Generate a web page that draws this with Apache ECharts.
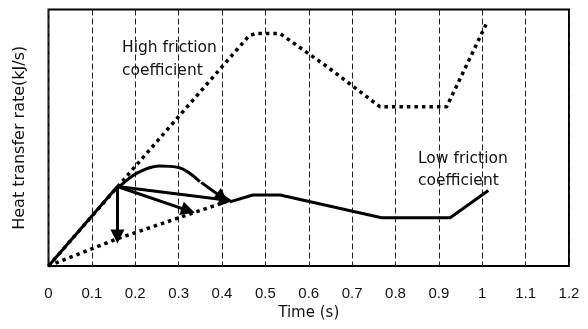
<!DOCTYPE html>
<html>
<head>
<meta charset="utf-8">
<script src="https://cdn.jsdelivr.net/npm/echarts@6/dist/echarts.min.js"></script>
<style>
html,body{margin:0;padding:0;background:#fff;}
#chart{width:588px;height:329px;}
</style>
</head>
<body>
<div id="chart"></div>
<script>
// ---- data (x: time in s, y: relative heat transfer rate, arbitrary units 0-100) ----
var xTickMin = 0, xTickMax = 1.2, xTickStep = 0.1;
var lowFrictionRise = [[0, 0], [0.159, 31.0]];
var lowFriction = [[0.418, 25.0], [0.471, 27.7], [0.534, 27.7], [0.768, 18.8], [0.926, 18.8], [1.014, 29.4]];
var highFriction = [[0, 0], [0.462, 89.7], [0.476, 90.6], [0.534, 90.6], [0.644, 77.5], [0.764, 62.1], [0.918, 62.1], [1.010, 94.6]];
var lowDotted = [[0, 0], [0.16, 10.7], [0.41, 25.1]];
var curvedPath = [[0.161, 30.6], [0.205, 36.3], [0.255, 39.0], [0.300, 38.4], [0.349, 32.9]];
var arrowSegments = [
  [[0.159, 31.0], [0.159, 11.5]],
  [[0.159, 31.0], [0.322, 21.6]],
  [[0.159, 31.0], [0.409, 25.7]],
  [[0.352, 32.6], [0.401, 26.6]]
];
var yAxisTitle = 'Heat transfer rate(kJ/s)';
var xAxisTitle = 'Time (s)';
var highLabel = ['High friction', 'coefficient'];
var lowLabel = ['Low friction', 'coefficient'];

var chart = echarts.init(document.getElementById('chart'), null, {renderer: 'canvas'});
var FONT = 'DejaVu Sans';
var solid = {color: '#000', width: 3};
var dotted = {color: '#000', width: 3.5, type: [3.5, 4], cap: 'butt'};

chart.setOption({
  animation: false,
  backgroundColor: '#fff',
  grid: {left: 48.5, right: 19, top: 9.5, bottom: 63, show: true, borderColor: '#000', borderWidth: 2},
  xAxis: {
    type: 'value', min: xTickMin, max: xTickMax, interval: xTickStep,
    name: xAxisTitle, nameLocation: 'middle', nameGap: 39,
    nameTextStyle: {fontFamily: FONT, fontSize: 15, color: '#111'},
    axisLine: {show: false}, axisTick: {show: false},
    axisLabel: {margin: 20, fontFamily: 'Liberation Sans', fontSize: 15, color: '#111',
      formatter: function (v) { return String(Math.round(v * 10) / 10); }},
    splitLine: {show: true, lineStyle: {color: '#222', width: 1, type: [6, 3]}}
  },
  yAxis: {
    type: 'value', min: 0, max: 100,
    name: yAxisTitle, nameLocation: 'middle', nameGap: 21, nameRotate: 90,
    nameTextStyle: {fontFamily: FONT, fontSize: 16, color: '#111'},
    axisLine: {show: false}, axisTick: {show: false}, axisLabel: {show: false},
    splitLine: {show: false}
  },
  series: [
    {type: 'line', data: highFriction, showSymbol: false, lineStyle: dotted, z: 3},
    {type: 'line', data: lowDotted, showSymbol: false, lineStyle: dotted, z: 3},
    {type: 'line', data: lowFrictionRise, showSymbol: false, lineStyle: solid, z: 4},
    {type: 'line', data: lowFriction, showSymbol: false, lineStyle: solid, z: 4},
    {type: 'line', data: curvedPath, showSymbol: false, smooth: 0.35, lineStyle: solid, z: 4},
    {
      type: 'lines', coordinateSystem: 'cartesian2d', z: 5,
      symbol: ['none', 'triangle'], symbolSize: 14,
      lineStyle: {color: '#000', width: 3, opacity: 1, curveness: 0},
      data: arrowSegments.map(function (s) { return {coords: s}; })
    }
  ],
  graphic: [
    {type: 'text', left: 122, top: 40, style: {text: highLabel[0], font: '15.5px "DejaVu Sans"', fill: '#111'}},
    {type: 'text', left: 122, top: 63, style: {text: highLabel[1], font: '15.5px "DejaVu Sans"', fill: '#111'}},
    {type: 'text', left: 418, top: 151, style: {text: lowLabel[0], font: '15.5px "DejaVu Sans"', fill: '#111'}},
    {type: 'text', left: 418, top: 173, style: {text: lowLabel[1], font: '15.5px "DejaVu Sans"', fill: '#111'}}
  ]
});
</script>
</body>
</html>
